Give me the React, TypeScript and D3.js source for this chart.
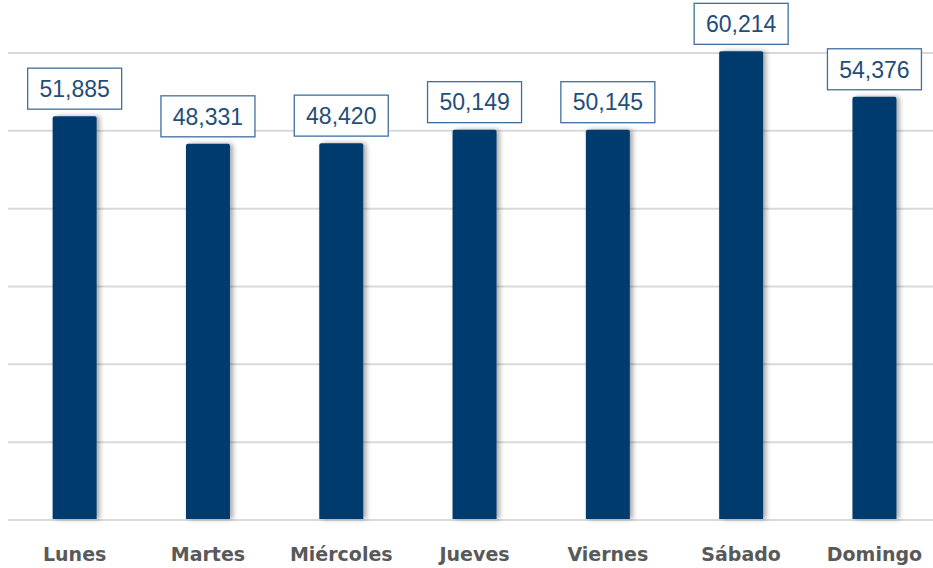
import React, { useEffect, useRef } from "react";
import * as d3 from "d3";

const days = ["Lunes", "Martes", "Miércoles", "Jueves", "Viernes", "Sábado", "Domingo"];
const totals = [51885, 48331, 48420, 50149, 50145, 60214, 54376];
const gridTicks = [0, 10000, 20000, 30000, 40000, 50000, 60000];

const width = 933;
const height = 568;
const margin = { top: 53, right: 0, bottom: 48, left: 8 };

export default function App() {
  const svgRef = useRef<SVGSVGElement>(null);

  useEffect(() => {
    const svg = d3.select(svgRef.current);
    svg.selectAll("*").remove();

    const baseY = height - margin.bottom;

    const x = d3
      .scaleBand<string>()
      .domain(days)
      .range([margin.left, margin.left + 7 * 133.3])
      .paddingInner(0.67)
      .paddingOuter(0.335);

    const y = d3.scaleLinear().domain([0, 60000]).range([baseY, margin.top]);

    const defs = svg.append("defs");
    const filter = defs
      .append("filter")
      .attr("id", "shadow")
      .attr("x", "-20%")
      .attr("y", "-5%")
      .attr("width", "160%")
      .attr("height", "110%");
    filter
      .append("feDropShadow")
      .attr("dx", 3)
      .attr("dy", 0)
      .attr("stdDeviation", 2.5)
      .attr("flood-color", "#000")
      .attr("flood-opacity", 0.35);

    // grid lines
    svg
      .append("g")
      .selectAll("line")
      .data(gridTicks)
      .enter()
      .append("line")
      .attr("x1", margin.left)
      .attr("x2", 933)
      .attr("y1", (d) => y(d))
      .attr("y2", (d) => y(d))
      .attr("stroke", "#d9d9d9")
      .attr("stroke-width", 2);

    // bars
    svg
      .append("g")
      .selectAll("path")
      .data(totals)
      .enter()
      .append("path")
      .attr("fill", "#003a70")
      .attr("filter", "url(#shadow)")
      .attr("d", (d, i) => {
        const x0 = x(days[i])!;
        const w = x.bandwidth();
        const top = y(d);
        const r = 2;
        return `M${x0},${baseY - 1} V${top + r} Q${x0},${top} ${x0 + r},${top} H${x0 + w - r} Q${x0 + w},${top} ${x0 + w},${top + r} V${baseY - 1} Z`;
      });

    // value labels
    const labels = svg
      .append("g")
      .selectAll("g")
      .data(totals)
      .enter()
      .append("g")
      .attr("transform", (d, i) => `translate(${x(days[i])! + x.bandwidth() / 2}, ${y(d) - 7})`);

    labels
      .append("rect")
      .attr("x", -47)
      .attr("y", -41)
      .attr("width", 94)
      .attr("height", 41)
      .attr("fill", "#fff")
      .attr("stroke", "#3f6f9f")
      .attr("stroke-width", 1.3);

    labels
      .append("text")
      .attr("y", -20.5)
      .attr("dy", "0.36em")
      .attr("text-anchor", "middle")
      .attr("font-family", "Liberation Sans, Arial, sans-serif")
      .attr("font-size", 23)
      .attr("fill", "#1f4e79")
      .text((d) => d3.format(",")(d));

    // category labels
    svg
      .append("g")
      .selectAll("text")
      .data(days)
      .enter()
      .append("text")
      .attr("x", (d) => x(d)! + x.bandwidth() / 2)
      .attr("y", 554)
      .attr("dy", "0.36em")
      .attr("text-anchor", "middle")
      .attr("font-family", "DejaVu Sans, sans-serif")
      .attr("font-weight", "bold")
      .attr("font-size", 19)
      .attr("fill", "#595959")
      .text((d) => d);
  }, []);

  return (
    <svg
      ref={svgRef}
      width={width}
      height={height}
      style={{ position: "absolute", left: 0, top: 0, background: "#fff" }}
    />
  );
}
